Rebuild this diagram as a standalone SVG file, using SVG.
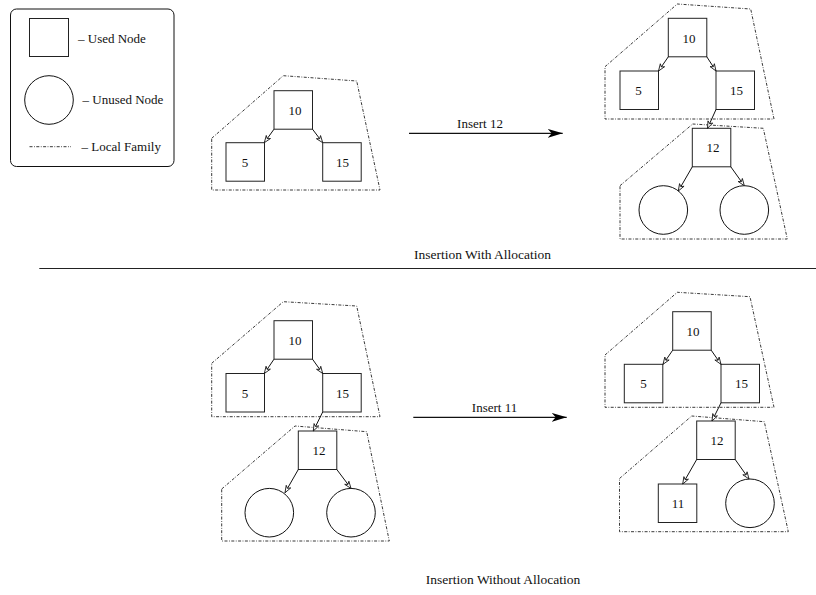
<svg xmlns="http://www.w3.org/2000/svg" width="816" height="595" viewBox="0 0 816 595">
  <style>
    text { font-family: "Liberation Serif", "Times New Roman", serif; font-size: 13px; fill: #111; }
    .lbl { text-anchor: middle; }
    .cap { text-anchor: middle; font-size: 13.5px; }
    .box { fill: #fff; stroke: #222; stroke-width: 1; }
    .circ { fill: #fff; stroke: #111; stroke-width: 1; }
    .fam { fill: none; stroke: #222; stroke-width: 0.9; stroke-dasharray: 3 1.5 0.8 1.5; }
    .edge { fill: none; stroke: #111; stroke-width: 1; marker-end: url(#tip); }
    .big { fill: none; stroke: #111; stroke-width: 1.2; marker-end: url(#head); }
  </style>
  <defs>
    <marker id="tip" markerUnits="userSpaceOnUse" markerWidth="10" markerHeight="8" viewBox="-8 -4 10 8" refX="0" refY="0" orient="auto">
      <path d="M-7,-2.6 L0,0 L-7,2.6 L-5,0 Z" fill="#fff" stroke="#111" stroke-width="0.8"/>
    </marker>
    <marker id="head" markerUnits="userSpaceOnUse" markerWidth="16" markerHeight="10" viewBox="-15 -5 16 10" refX="0" refY="0" orient="auto">
      <path d="M-15,-4.5 L0,0 L-15,4.5 L-11,0 Z" fill="#000"/>
    </marker>
  </defs>

  <rect width="816" height="595" fill="#fff"/>

  <!-- legend -->
  <g id="legend">
    <rect x="10.5" y="9" width="163.5" height="157.5" rx="6" fill="#fff" stroke="#111" stroke-width="1"/>
    <rect class="box" x="29.5" y="18.5" width="39" height="38"/>
    <text x="78" y="42.5">– Used Node</text>
    <circle class="circ" cx="49" cy="100" r="24.3"/>
    <text x="82.5" y="104">– Unused Node</text>
    <line class="fam" x1="29.5" y1="146.7" x2="71" y2="146.7"/>
    <text x="81.5" y="151">– Local Family</text>
  </g>

  <!-- insertion with allocation: before -->
  <g id="fam-a1"><polygon class="fam" points="211.7,138.3 283.3,75.7 356.7,81 380,190 211.7,190"/></g>
  <g id="a1-10"><rect class="box" x="274" y="90.7" width="38.5" height="38.5"/><text class="lbl" x="295" y="115">10</text></g>
  <g id="a1-5"><rect class="box" x="226" y="142.7" width="38.5" height="38.5"/><text class="lbl" x="245" y="166.5">5</text></g>
  <g id="a1-15"><rect class="box" x="322.7" y="142.7" width="38.5" height="38.5"/><text class="lbl" x="342.5" y="166.5">15</text></g>

  <!-- insertion with allocation: after -->
  <g id="fam-a2"><polygon class="fam" points="605,66.7 677.3,4 750.7,9 774,119 605,119"/></g>
  <g id="fam-a3"><polygon class="fam" points="620,185.7 692.7,124 763.3,128.3 787.3,239 620,239"/></g>
  <g id="a2-10"><rect class="box" x="668.3" y="18.3" width="38.5" height="38.5"/><text class="lbl" x="689" y="42.5">10</text></g>
  <g id="a2-5"><rect class="box" x="620" y="71" width="38.5" height="38.5"/><text class="lbl" x="638.5" y="95">5</text></g>
  <g id="a2-15"><rect class="box" x="716" y="71" width="38.5" height="38.5"/><text class="lbl" x="736.5" y="95">15</text></g>
  <g id="a2-12"><rect class="box" x="692.3" y="128.3" width="38.5" height="38.5"/><text class="lbl" x="713" y="152">12</text></g>
  <g id="a2-u1"><circle class="circ" cx="663.3" cy="210" r="24.3"/></g>
  <g id="a2-u2"><circle class="circ" cx="744.3" cy="210" r="24.3"/></g>

  <!-- insertion without allocation: before -->
  <g id="fam-b1"><polygon class="fam" points="211.7,363.3 283.3,301.7 356.7,306 380,416.7 211.7,416.7"/></g>
  <g id="fam-b2"><polygon class="fam" points="221.7,489 295,426 366.7,431.7 389.3,541 221.7,541"/></g>
  <g id="b1-10"><rect class="box" x="274" y="320.7" width="38.5" height="38.5"/><text class="lbl" x="295" y="344.5">10</text></g>
  <g id="b1-5"><rect class="box" x="226" y="373.5" width="38.5" height="38.5"/><text class="lbl" x="245" y="397.5">5</text></g>
  <g id="b1-15"><rect class="box" x="322.7" y="373.5" width="38.5" height="38.5"/><text class="lbl" x="342.5" y="397.5">15</text></g>
  <g id="b1-12"><rect class="box" x="298.3" y="431" width="38.5" height="38.5"/><text class="lbl" x="319" y="455">12</text></g>
  <g id="b1-u1"><circle class="circ" cx="269.3" cy="512.7" r="24.3"/></g>
  <g id="b1-u2"><circle class="circ" cx="351" cy="512.7" r="24.3"/></g>

  <!-- insertion without allocation: after -->
  <g id="fam-b3"><polygon class="fam" points="605,355 677.3,292.3 750,296.7 774,407.3 605,407.3"/></g>
  <g id="fam-b4"><polygon class="fam" points="619.5,478.5 691.7,416 764.3,421.7 788.3,531.7 619.5,531.7"/></g>
  <g id="b2-10"><rect class="box" x="672.7" y="311.7" width="38.5" height="38.5"/><text class="lbl" x="693" y="335.5">10</text></g>
  <g id="b2-5"><rect class="box" x="624.3" y="364.3" width="38.5" height="38.5"/><text class="lbl" x="643.5" y="388">5</text></g>
  <g id="b2-15"><rect class="box" x="721" y="364.3" width="38.5" height="38.5"/><text class="lbl" x="741.5" y="388">15</text></g>
  <g id="b2-12"><rect class="box" x="696.7" y="421" width="38.5" height="38.5"/><text class="lbl" x="717" y="444.5">12</text></g>
  <g id="b2-11"><rect class="box" x="658.3" y="484" width="38.5" height="38.5"/><text class="lbl" x="678" y="507.5">11</text></g>
  <g id="b2-u1"><circle class="circ" cx="750" cy="503.3" r="24.3"/></g>

  <!-- connectors -->
  <g id="connectors">
    <line class="edge" x1="274" y1="129.2" x2="264.3" y2="142.7"/>
    <line class="edge" x1="312.5" y1="129.2" x2="322.7" y2="142.7"/>

    <line class="edge" x1="668.3" y1="56.8" x2="658.5" y2="71"/>
    <line class="edge" x1="706.8" y1="56.8" x2="716" y2="71"/>
    <line class="edge" x1="716" y1="109.5" x2="707.5" y2="128.3"/>
    <line class="edge" x1="692.3" y1="166.8" x2="678.3" y2="191"/>
    <line class="edge" x1="730.8" y1="166.8" x2="744.3" y2="185.7"/>

    <line class="edge" x1="274" y1="359.2" x2="264.3" y2="373.5"/>
    <line class="edge" x1="312.5" y1="359.2" x2="322.7" y2="373.5"/>
    <line class="edge" x1="322.7" y1="412" x2="313.3" y2="431"/>
    <line class="edge" x1="298.3" y1="469.5" x2="285" y2="492.7"/>
    <line class="edge" x1="336.8" y1="469.5" x2="351" y2="488.4"/>

    <line class="edge" x1="672.7" y1="350.2" x2="663" y2="364.3"/>
    <line class="edge" x1="711.2" y1="350.2" x2="721" y2="364.3"/>
    <line class="edge" x1="721" y1="402.8" x2="712" y2="421"/>
    <line class="edge" x1="696.7" y1="459.5" x2="682.7" y2="484"/>
    <line class="edge" x1="735.2" y1="459.5" x2="749" y2="479"/>

    <line class="big" x1="409" y1="133.3" x2="562.7" y2="133.3"/>
    <line class="big" x1="413.3" y1="417.3" x2="566.7" y2="417.3"/>
  </g>

  <text class="lbl" x="480" y="128">Insert 12</text>
  <text class="lbl" x="494.5" y="411.7">Insert 11</text>

  <!-- section divider and captions -->
  <line x1="39.3" y1="268.5" x2="816" y2="268.5" stroke="#222" stroke-width="1.2"/>
  <text class="cap" x="482.5" y="258.5">Insertion With Allocation</text>
  <text class="cap" x="503" y="584">Insertion Without Allocation</text>
</svg>
